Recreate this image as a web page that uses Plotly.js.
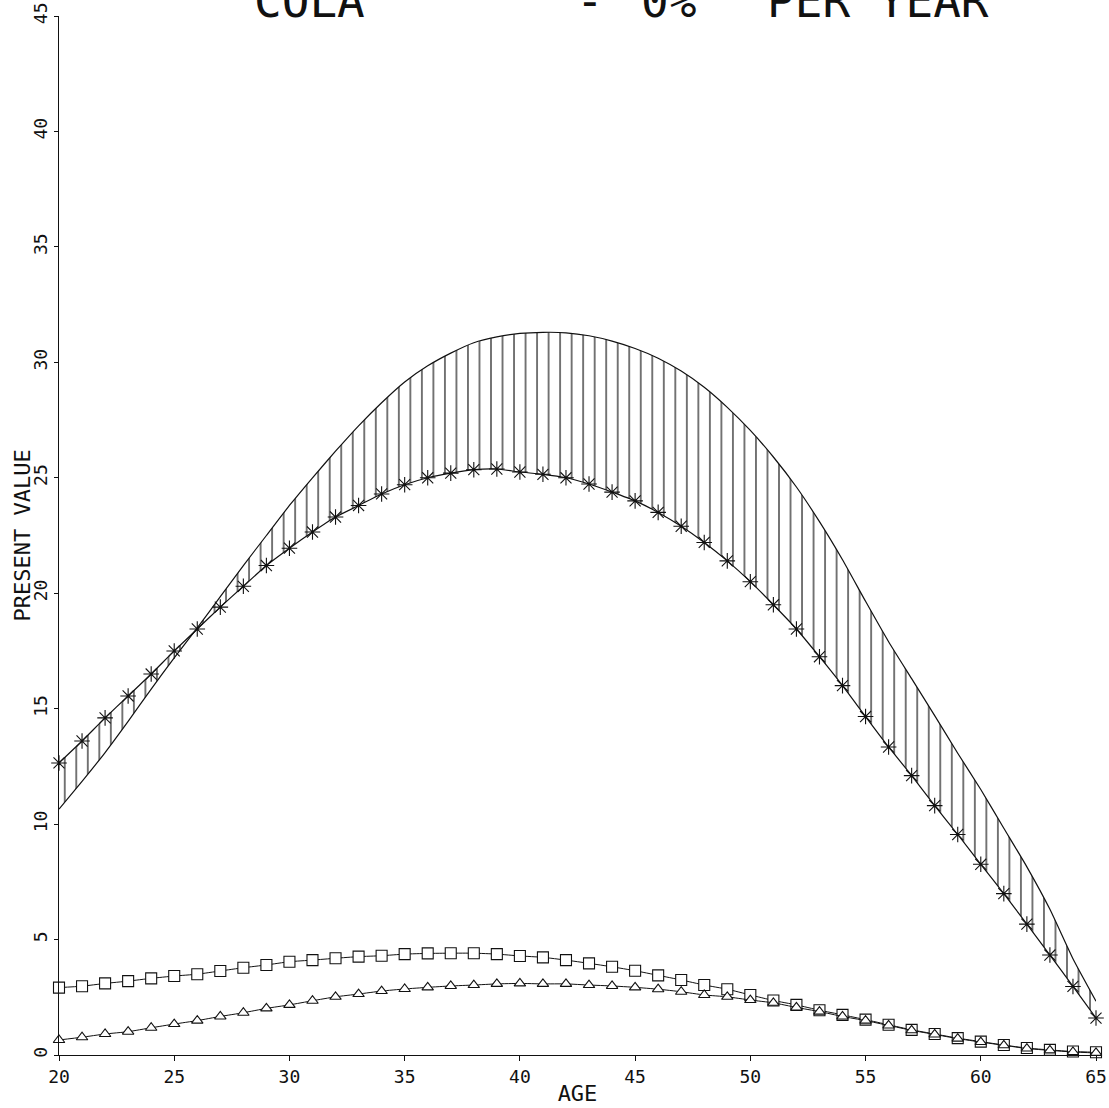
<!DOCTYPE html>
<html><head><meta charset="utf-8">
<script src="https://cdn.plot.ly/plotly-3.0.1.min.js"></script>
<style>html,body{margin:0;padding:0;background:#fff}#chart{width:1109px;height:1108px}</style>
</head><body><div id="chart"></div>
<script>
const ages = [20,21,22,23,24,25,26,27,28,29,30,31,32,33,34,35,36,37,38,39,40,41,42,43,44,45,46,47,48,49,50,51,52,53,54,55,56,57,58,59,60,61,62,63,64,65];
const upperValues = [10.65,11.85,13.1,14.45,15.85,17.2,18.5,19.85,21.2,22.5,23.8,25.0,26.15,27.25,28.25,29.15,29.85,30.4,30.85,31.1,31.25,31.3,31.28,31.15,30.92,30.6,30.18,29.62,28.92,28.05,27.05,25.9,24.6,23.1,21.45,19.65,17.9,16.3,14.7,13.07,11.5,9.82,8.15,6.31,4.17,2.33];
const starValues = [12.65,13.6,14.6,15.55,16.5,17.5,18.45,19.4,20.3,21.2,21.95,22.65,23.3,23.8,24.3,24.7,25.0,25.2,25.35,25.38,25.25,25.15,25.0,24.73,24.38,24.0,23.5,22.9,22.2,21.4,20.5,19.5,18.45,17.25,16.0,14.66,13.34,12.1,10.8,9.55,8.26,6.99,5.67,4.33,2.97,1.6];
const squareValues = [2.92,2.98,3.1,3.2,3.32,3.42,3.5,3.64,3.78,3.9,4.04,4.11,4.19,4.26,4.3,4.37,4.4,4.41,4.41,4.37,4.29,4.23,4.11,3.97,3.82,3.65,3.45,3.25,3.03,2.85,2.6,2.36,2.17,1.94,1.74,1.53,1.31,1.09,0.91,0.73,0.58,0.43,0.3,0.22,0.15,0.12];
const triangleValues = [0.65,0.77,0.91,1.01,1.18,1.34,1.49,1.67,1.83,2.02,2.17,2.35,2.52,2.64,2.77,2.86,2.93,2.99,3.03,3.08,3.1,3.08,3.08,3.03,2.99,2.93,2.85,2.74,2.6,2.52,2.38,2.26,2.06,1.88,1.67,1.49,1.28,1.07,0.89,0.71,0.56,0.42,0.28,0.2,0.13,0.09];
const xTickValues = [20,25,30,35,40,45,50,55,60,65];
const yTickValues = [0,5,10,15,20,25,30,35,40,45];
const titleParts = ["COLA", "-", "0%", "PER YEAR"];
const xTitle = "AGE";
const yTitle = "PRESENT VALUE";

const ink = '#111';
const traces = [
  {x: ages, y: starValues, mode: 'lines', line: {color: ink, width: 1.2, shape: 'spline', smoothing: 0.5}, hoverinfo: 'skip', cliponaxis: false},
  {x: ages, y: upperValues, mode: 'lines', fill: 'tonexty', fillcolor: 'rgba(0,0,0,0)',
   fillpattern: {shape: '|', size: 11.52, solidity: 0.1, fgcolor: ink, bgcolor: 'rgba(0,0,0,0)', fillmode: 'replace'},
   line: {color: ink, width: 1.2, shape: 'spline', smoothing: 0.5}, cliponaxis: false},
  {x: ages, y: starValues, mode: 'markers', marker: {symbol: 'asterisk-open', size: 13, color: ink, line: {color: ink, width: 1.1}}, cliponaxis: false},
  {x: ages, y: squareValues, mode: 'lines+markers', line: {color: ink, width: 1, shape: 'spline', smoothing: 0.5},
   marker: {symbol: 'square', size: 11, color: '#fff', line: {color: ink, width: 1.1}}, cliponaxis: false},
  {x: ages, y: triangleValues, mode: 'lines+markers', line: {color: ink, width: 1, shape: 'spline', smoothing: 0.5},
   marker: {symbol: 'triangle-up', size: 10, color: '#fff', line: {color: ink, width: 1.1}}, cliponaxis: false}
];

const L = 59, W = 1037;
const px = v => (v - L) / W;
const titleFont = {family: 'DejaVu Sans Mono', size: 46, color: ink};
const annotations = [
  {text: titleParts[0], x: px(253), xanchor: 'left'},
  {text: titleParts[1], x: px(590), xanchor: 'center'},
  {text: titleParts[2], x: px(640), xanchor: 'left'},
  {text: titleParts[3], x: px(766), xanchor: 'left'}
].map(a => Object.assign({xref: 'paper', yref: 'paper', y: 1, yanchor: 'bottom', yshift: -13, showarrow: false, font: titleFont, borderpad: 0}, a));
annotations.push({text: yTitle, xref: 'paper', yref: 'paper', x: px(22), y: 0.5, xanchor: 'center', yanchor: 'middle',
  textangle: -90, showarrow: false, font: {size: 22, family: 'DejaVu Sans Mono', color: ink}});

const layout = {
  width: 1109, height: 1108,
  margin: {l: 59, r: 13, t: 16, b: 53, pad: 0},
  paper_bgcolor: '#fff', plot_bgcolor: '#fff',
  showlegend: false,
  font: {family: 'DejaVu Sans Mono', color: ink},
  xaxis: {range: [20, 65], tickvals: xTickValues, ticks: 'outside', ticklen: 5, tickcolor: ink, tickwidth: 1,
    showline: true, linecolor: ink, linewidth: 1, showgrid: false, zeroline: false,
    tickfont: {size: 18, family: 'DejaVu Sans Mono', color: ink},
    title: {text: xTitle, font: {size: 22, family: 'DejaVu Sans Mono', color: ink}, standoff: 0}},
  yaxis: {range: [0, 45], tickvals: yTickValues, tickangle: -90, ticks: 'outside', ticklen: 4, tickcolor: ink, tickwidth: 1,
    showline: true, linecolor: ink, linewidth: 1, showgrid: false, zeroline: false,
    tickfont: {size: 18, family: 'DejaVu Sans Mono', color: ink}},
  annotations: annotations
};

Plotly.newPlot('chart', traces, layout, {displayModeBar: false, staticPlot: true});
</script></body></html>
